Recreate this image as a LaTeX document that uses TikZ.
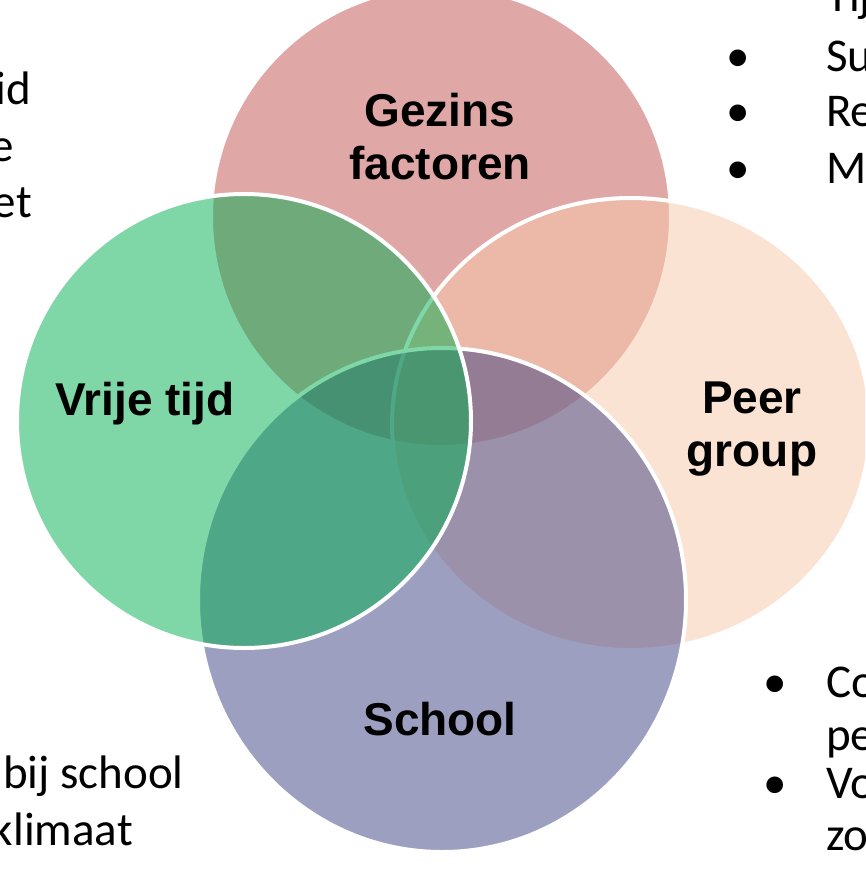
\documentclass[tikz,border=0pt]{standalone}
\usepackage{fontspec}
\setmainfont{Liberation Sans}
\newfontfamily\calib{Carlito}
\begin{document}
\begin{tikzpicture}[x=1pt,y=-1pt,
  venn/.style={draw=white,line width=4pt,fill opacity=0.5,draw opacity=1},
  lbl/.style={font=\fontsize{46}{53}\selectfont\bfseries,align=center,inner sep=0pt},
  side/.style={font=\calib\fontsize{47}{55}\selectfont,inner sep=0pt}]
\definecolor{cred}{HTML}{C0504D}
\definecolor{cpeach}{RGB}{249,201,169}
\definecolor{cschool}{RGB}{60,65,130}
\definecolor{cgreen}{HTML}{00B050}
\useasboundingbox (0,0) rectangle (865,869);
\clip (0,0) rectangle (865,869);
% circles
\fill[white] (0,0) rectangle (865,869);
\path[venn,fill=cred] (441,217) circle (230);
\path[venn,fill=cpeach] (631,424) ellipse [x radius=239,y radius=226];
\path[venn,fill=cschool] (442,600) ellipse [x radius=244,y radius=252];
\path[venn,fill=cgreen] (244,421) circle (227);
% labels
\node[lbl] (gez) at (440,137) {Gezins\\factoren};
\node[lbl] (peer) at (752,429) {Peer\\group};
\node[lbl,anchor=base] (vrij) at (145,415) {Vrije tijd};
\node[lbl,anchor=base] (school) at (440,735) {School};
% top-left fragments
\node[side,anchor=base east] (tl1) at (31,105) {id};
\node[side,anchor=base east] (tl2) at (14,161) {e};
\node[side,anchor=base east] (tl3) at (32,217) {et};
% top-right
\node[side,anchor=base west] (tr0) at (826,12) {Tij};
\node[side,anchor=base] (tb1) at (738,72) {•};
\node[side,anchor=base west] (tr1) at (826,72) {Su};
\node[side,anchor=base] (tb2) at (738,127) {•};
\node[side,anchor=base west] (tr2) at (826,127) {Re};
\node[side,anchor=base] (tb3) at (738,183) {•};
\node[side,anchor=base west] (tr3) at (826,183) {M};
% bottom-left
\node[side,anchor=base west] (bl1) at (3,788) {bij school};
\node[side,anchor=base east] (bl2) at (133,845) {klimaat};
% bottom-right
\node[side,anchor=base] (bb1) at (775,697) {•};
\node[side,anchor=base west] (br1) at (826,697) {Co};
\node[side,anchor=base west] (br2) at (826,750) {pe};
\node[side,anchor=base] (bb2) at (775,798) {•};
\node[side,anchor=base west] (br3) at (826,798) {Vo};
\node[side,anchor=base west] (br4) at (826,850) {zo};
\end{tikzpicture}
\end{document}
